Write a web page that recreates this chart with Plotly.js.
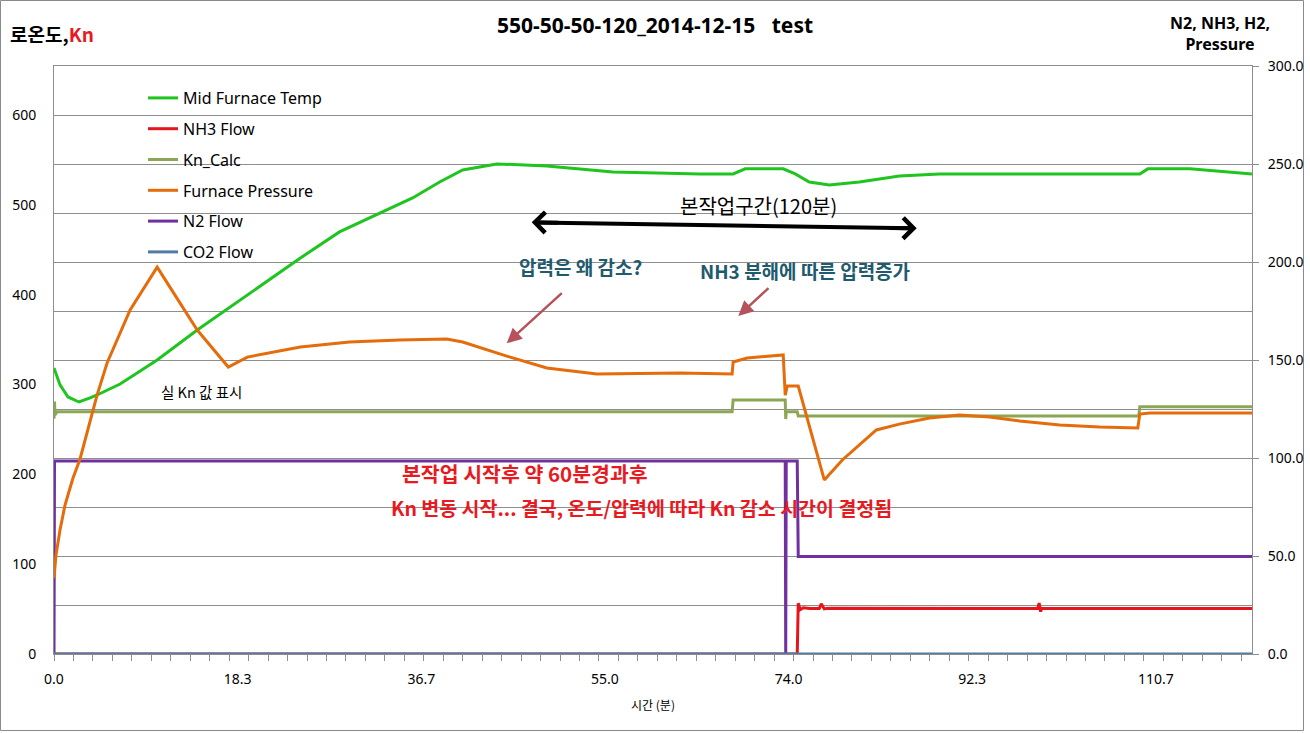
<!DOCTYPE html>
<html>
<head>
<meta charset="utf-8">
<script src="https://cdn.plot.ly/plotly-3.0.1.min.js"></script>
<style>
html,body{margin:0;padding:0;background:#fff;}
#chart{width:1310px;height:733px;}
</style>
</head>
<body>
<div id="chart"></div>
<script>
// ---- data (time in minutes) ----
const xTickVals = [0, 18.33, 36.67, 55.0, 73.33, 91.67, 110.0];
const xTickText = ["0.0", "18.3", "36.7", "55.0", "74.0", "92.3", "110.7"];

const tempX = [0,0.6,1.4,2.5,3.6,4.3,6.6,10.3,14.3,18.6,24.6,28.5,32.5,35.8,38.5,40.8,44.2,49.2,55.8,64.5,67.8,69.0,72.8,74.0,75.4,77.4,80.4,84.4,88.4,94.4,104.4,108.4,109.2,113.4,119.6];
const tempY = [318.4,299.5,286.1,280.5,285.0,288.3,300.5,327.3,360.7,394.1,440.8,469.8,490.9,507.6,525.4,538.8,545.5,543.3,536.6,534.4,534.4,540.0,540.0,534.4,525.4,522.1,525.4,532.1,534.4,534.4,534.4,534.4,540.0,540.0,534.4];

const pressX = [0,0.2,0.6,1.1,1.6,1.9,2.6,3.6,4.3,5.3,7.6,10.3,14.3,17.4,19.3,24.6,29.5,34.5,39.2,40.8,45.2,49.2,54.2,62.5,67.7,67.8,69.2,72.8,73.0,73.2,74.3,76.9,78.7,82.1,84.4,87.4,90.4,93.4,96.4,100.4,104.4,108.2,108.4,109.4,119.6];
const pressY = [38.8,50.5,63.3,76.0,84.7,89.8,99.5,119.4,132.1,148.5,175.5,197.4,165.3,146.4,151.5,156.6,159.2,160.2,160.7,159.2,152.0,145.9,142.9,143.4,142.9,149.0,151.0,152.6,132.1,136.7,136.7,88.8,99.0,114.3,117.3,120.4,121.9,120.9,118.9,116.8,115.8,115.3,122.4,123.0,123.0];

const knX = [0,0.05,0.1,0.3,67.7,67.8,73.0,73.05,73.1,74.2,74.3,108.3,108.4,119.6];
const knY = [262,281,266,269.7,269.7,282.8,282.8,261.5,269.7,269.7,265.0,265.0,275.3,275.3];

const n2X = [0,0.05,73.0,73.05,73.1,74.2,74.3,119.6];
const n2Y = [0,98.5,98.5,0,98.5,98.5,49.7,49.7];

const nh3X = [0,74.2,74.3,74.5,74.8,75.5,76.4,76.6,76.9,77.2,98.2,98.35,98.5,98.6,119.6];
const nh3Y = [0,0,25.9,22.6,23.6,23.2,23.2,25.6,23.0,23.3,23.2,26.0,21.6,23.2,23.2];

const co2X = [0,119.6];
const co2Y = [0,0];

// ---- layout geometry ----
const L=54, R=58, T=66, B=79, W=1310, H=733;
const PW=W-L-R, PH=H-T-B;
const px=(x)=>(x-L)/PW;
const py=(y)=>(H-B-y)/PH;

const FONT = "Noto Sans, Noto Sans CJK KR, sans-serif";
const KFONT = "Noto Sans CJK KR, Noto Sans, sans-serif";

function tr(name, x, y, color, axis, rank){
  return {type:'scatter', mode:'lines', name:name, x:x, y:y, yaxis:axis,
    line:{color:color, width:3}, legendgroup:name, legendrank:rank, cliponaxis:false,
    hoverinfo:'skip'};
}

const data = [
  tr('NH3 Flow', nh3X, nh3Y, '#E4161C', 'y2', 2),
  tr('N2 Flow', n2X, n2Y, '#7030A0', 'y2', 5),
  tr('Kn_Calc', knX, knY, '#8DA656', 'y', 3),
  tr('Furnace Pressure', pressX, pressY, '#E46C0A', 'y2', 4),
  tr('Mid Furnace Temp', tempX, tempY, '#1FC41F', 'y', 1),
  tr('CO2 Flow', co2X, co2Y, '#4F7BA5', 'y2', 6)
];

const grid = '#8E8E8E';
const ann = [];
function txt(t, x, y, size, color, bold, family, xanchor){
  ann.push({xref:'paper', yref:'paper', x:px(x), y:py(y), xanchor:xanchor||'center', yanchor:'middle',
    text: bold?('<b>'+t+'</b>'):t, showarrow:false, font:{size:size, color:color, family:family||KFONT}});
}
function arrow(hx, hy, tx, ty, color, width, head, size){
  ann.push({xref:'paper', yref:'paper', x:px(hx), y:py(hy), ax:tx-hx, ay:ty-hy, text:'',
    showarrow:true, arrowhead:head, arrowsize:size, arrowwidth:width, arrowcolor:color, standoff:0, startstandoff:0});
}
// axis titles at the corners
txt('<b>로온도,</b><b><span style="color:#E8191F">Kn</span></b>', 8, 34, 19, '#000', false, KFONT, 'left');
txt('N2, NH3, H2,<br>Pressure', 1220, 34, 16, '#000', true, FONT);
// notes
txt('본작업구간(120분)', 758, 205, 20, '#000', false);
arrow(531.7, 222.3, 560, 222.7, '#000', 4, 4, 1);
arrow(916.7, 228.3, 888, 227.9, '#000', 4, 4, 1);
txt('압력은 왜 감소?', 580, 266, 19, '#215A6C', true);
arrow(506.7, 343.3, 563.3, 291.7, '#B5525C', 2.5, 2, 1.2);
txt('NH3 분해에 따른 압력증가', 805, 270, 19, '#215A6C', true);
arrow(738.3, 316, 770, 286.7, '#B5525C', 2.5, 2, 1.2);
txt('실 Kn 값 표시', 201, 391, 14.5, '#000', false);
txt('본작업 시작후 약 60분경과후', 525, 473, 20.5, '#E8191F', true);
txt('Kn 변동 시작... 결국, 온도/압력에 따라 Kn 감소 시간이 결정됨', 641, 507, 19.5, '#E8191F', true);

const layout = {
  width:W, height:H,
  margin:{l:L, r:R, t:T, b:B, pad:0},
  paper_bgcolor:'#fff', plot_bgcolor:'#fff',
  font:{family:FONT, size:14, color:'#000'},
  title:{text:'<b>550-50-50-120_2014-12-15\u00a0\u00a0\u00a0test</b>', font:{size:21, family:FONT, color:'#000'},
    x:0.5, xref:'container', y:1-26/H, yref:'container', yanchor:'middle'},
  showlegend:true,
  legend:{x:px(143), y:py(81), xanchor:'left', yanchor:'top', bgcolor:'rgba(0,0,0,0)',
    font:{size:16, family:FONT, color:'#000'}, tracegroupgap:7, traceorder:'grouped'},
  xaxis:{range:[0,119.6], tickmode:'array', tickvals:xTickVals, ticktext:xTickText,
    showgrid:false, zeroline:false, showline:true, linecolor:grid, linewidth:1, mirror:true,
    ticks:'', ticklabelstandoff:12, tickfont:{size:14, family:FONT, color:'#000'},
    minor:{ticks:'outside', dtick:1.943, tick0:0, ticklen:6, tickcolor:grid, showgrid:false},
    title:{text:'시간 (분)', font:{size:12, family:KFONT, color:'#000'}, standoff:14}},
  yaxis:{range:[0,654.5], dtick:100, tick0:0, showgrid:false, zeroline:false,
    showline:true, linecolor:grid, linewidth:1, ticks:'', ticklabelstandoff:14,
    tickfont:{size:14, family:FONT, color:'#000'}},
  yaxis2:{range:[0,300], overlaying:'y', side:'right', tickmode:'array', tickvals:[0,50,100,150,200,250,300],
    tickformat:'.1f', showgrid:true, gridcolor:grid, gridwidth:1, zeroline:false,
    showline:true, linecolor:grid, linewidth:1, ticks:'outside', ticklen:6, tickcolor:grid, ticklabelstandoff:6,
    tickfont:{size:14, family:FONT, color:'#000'},
    minor:{dtick:25, tick0:0, showgrid:true, gridcolor:grid, gridwidth:1, ticks:''}},
  annotations:ann,
  shapes:[
    {type:'rect', xref:'paper', yref:'paper', x0:px(0.5), x1:px(1303.5), y0:py(730.5), y1:py(0.5),
      line:{color:'#8A8A8A', width:1}, fillcolor:'rgba(0,0,0,0)', layer:'below'},
    {type:'line', xref:'paper', yref:'paper', x0:px(536), y0:py(222.4), x1:px(912), y1:py(228.2),
      line:{color:'#000', width:4}}
  ]
};

Plotly.newPlot('chart', data, layout, {displayModeBar:false, staticPlot:true});
</script>
</body>
</html>
